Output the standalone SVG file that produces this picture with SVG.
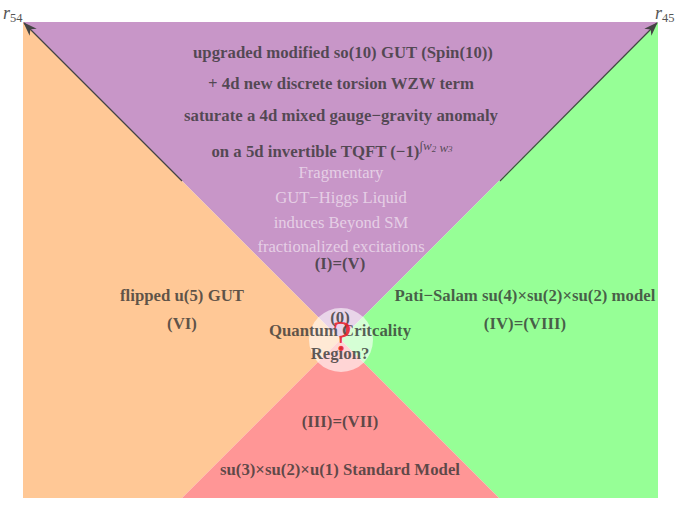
<svg xmlns="http://www.w3.org/2000/svg" width="683" height="513" viewBox="0 0 683 513">
<style>
.t{font-family:"Liberation Serif","Times New Roman",serif;font-weight:bold;font-size:16.8px;fill:#333;fill-opacity:0.78;text-anchor:middle}
.l{font-family:"Liberation Serif","Times New Roman",serif;font-size:16.6px;fill:#fff;fill-opacity:0.55;text-anchor:middle}
.ax{font-family:"Liberation Serif","Times New Roman",serif;font-style:italic;font-size:18px;fill:#555}
.sub{font-style:normal;font-size:12.5px}
.ln{stroke:#444;stroke-width:1.2;fill:none}
</style>
<defs>
<marker id="ah" viewBox="0 0 14 10" refX="13" refY="5" markerWidth="14" markerHeight="10" markerUnits="userSpaceOnUse" orient="auto">
<path d="M0,0 L14,5 L0,10 L4,5 z" fill="#444"/>
</marker>
</defs>
<rect width="683" height="513" fill="#fff"/>
<g id="regions">
<polygon id="top" points="23,22 658,22 340.5,339.5" fill="#C896C8"/>
<polygon id="left" points="23,22 340.5,339.5 182,498 23,498" fill="#FFC896"/>
<polygon id="right" points="658,22 658,498 499,498 340.5,339.5" fill="#96FF96"/>
<polygon id="bottom" points="182,498 340.5,339.5 499,498" fill="#FF9696"/>
</g>
<g id="connectors">
<line class="ln" x1="182" y1="181" x2="24" y2="23" marker-end="url(#ah)"/>
<line class="ln" x1="500" y1="181" x2="657" y2="23" marker-end="url(#ah)"/>
</g>
<g id="axis-labels">
<text class="ax" x="3" y="19">r<tspan class="sub" dy="3">54</tspan></text>
<text class="ax" x="655" y="19">r<tspan class="sub" dy="3">45</tspan></text>
</g>
<g id="node-I">
<text class="t" x="343" y="58">upgraded modified so(10) GUT (Spin(10))</text>
<text class="t" x="341" y="89">+ 4d new discrete torsion WZW term</text>
<text class="t" x="341" y="121">saturate a 4d mixed gauge−gravity anomaly</text>
<text class="t" x="332" y="157">on a 5d invertible TQFT (−1)<tspan font-style="italic" font-weight="normal" font-size="13" dy="-7">∫w<tspan font-size="9" dy="2">2</tspan> w<tspan font-size="9" dy="0">3</tspan></tspan></text>
<text class="l" x="341" y="178">Fragmentary</text>
<text class="l" x="341" y="203">GUT−Higgs Liquid</text>
<text class="l" x="341" y="228">induces Beyond SM</text>
<text class="l" x="341" y="252">fractionalized excitations</text>
<text class="t" x="340" y="269">(I)=(V)</text>
</g>
<g id="node-VI">
<text class="t" x="182" y="301">flipped u(5) GUT</text>
<text class="t" x="182" y="329">(VI)</text>
</g>
<g id="node-IV">
<text class="t" x="525" y="301">Pati−Salam su(4)×su(2)×su(2) model</text>
<text class="t" x="525" y="329">(IV)=(VIII)</text>
</g>
<g id="node-III">
<text class="t" x="340" y="427">(III)=(VII)</text>
<text class="t" x="340" y="475">su(3)×su(2)×u(1) Standard Model</text>
</g>
<g id="node-0">
<circle cx="341" cy="340" r="32" fill="#fff" fill-opacity="0.6"/>
<text class="t" x="340" y="323" font-weight="normal">(0)</text>
<text class="t" x="340" y="336">Quantum Critcality</text>
<text class="t" x="340" y="359">Region?</text>
<text x="342" y="351" font-family="'Liberation Serif','Times New Roman',serif" font-size="44" fill="#E8202A" fill-opacity="0.9" text-anchor="middle">?</text>
</g>
</svg>
